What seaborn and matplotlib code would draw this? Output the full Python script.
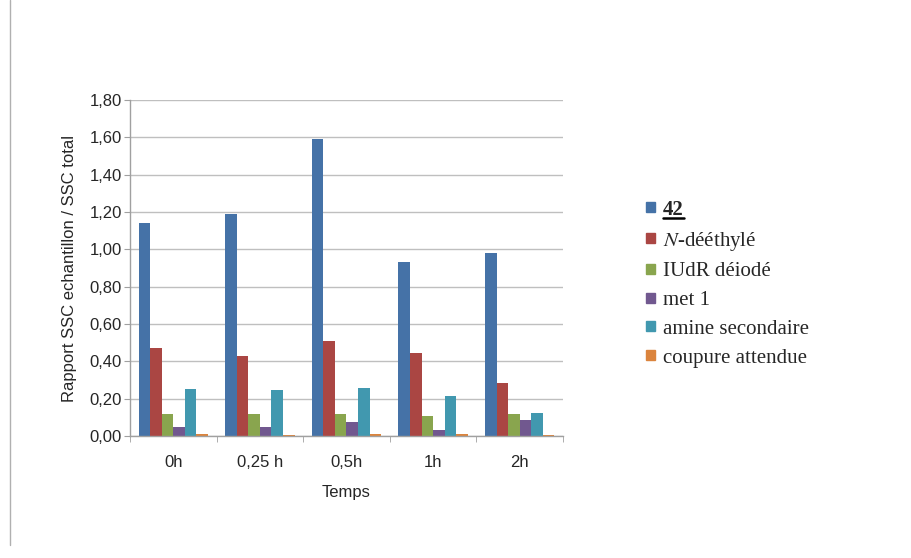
import matplotlib
matplotlib.use("Agg")
import matplotlib.pyplot as plt
import seaborn as sns
import pandas as pd
import numpy as np
from matplotlib.lines import Line2D
from matplotlib.ticker import FixedLocator

categories = ["0h", "0,25 h", "0,5h", "1h", "2h"]
series_names = ["42", "N-dééthylé", "IUdR déiodé", "met 1", "amine secondaire", "coupure attendue"]
v_42 = [1.14, 1.19, 1.59, 0.93, 0.98]
v_ndeeth = [0.47, 0.43, 0.51, 0.445, 0.285]
v_iudr = [0.12, 0.12, 0.12, 0.107, 0.118]
v_met1 = [0.048, 0.048, 0.075, 0.032, 0.086]
v_amine = [0.252, 0.246, 0.257, 0.214, 0.123]
v_coup = [0.01, 0.005, 0.01, 0.01, 0.005]
legend_labels = ["42", r"$\it{N}$-dééthylé", "IUdR déiodé", "met 1",
                 "amine secondaire", "coupure attendue"]
y_ticks = [0.0, 0.2, 0.4, 0.6, 0.8, 1.0, 1.2, 1.4, 1.6, 1.8]
colors = ["#4572A7", "#AA4643", "#89A54E", "#71588F", "#4198AF", "#DB843D"]

rows = []
for name, vals in zip(series_names, [v_42, v_ndeeth, v_iudr, v_met1, v_amine, v_coup]):
    for c, v in zip(categories, vals):
        rows.append({"Temps": c, "serie": name, "val": v})
df = pd.DataFrame(rows)

sns.set_style("white")
plt.rcParams["font.family"] = ["Liberation Sans", "DejaVu Sans"]
plt.rcParams["mathtext.fontset"] = "stix"

fig = plt.figure(figsize=(9.12, 5.58), dpi=100)
ax = fig.add_axes([130/912, 1-436/558, (563-130)/912, (436-100)/558])

sns.barplot(data=df, x="Temps", y="val", hue="serie", hue_order=series_names,
            order=categories, palette=colors, width=0.8, gap=0, ax=ax,
            saturation=1, legend=False, edgecolor="none", linewidth=0)

ax.set_ylim(0, 1.8)
ax.set_xlim(-0.5, len(categories) - 0.5)
ax.set_yticks(y_ticks)
ax.set_yticklabels([f"{t:.2f}".replace(".", ",") for t in y_ticks])
ax.yaxis.grid(True, color="#BFBFBF", linewidth=1)
ax.set_axisbelow(True)
for s in ["top", "right"]:
    ax.spines[s].set_visible(False)
for s in ["left", "bottom"]:
    ax.spines[s].set_color("#A0A0A0")
    ax.spines[s].set_linewidth(1)
ax.tick_params(axis="y", length=4.5, color="#A0A0A0", labelsize=12, pad=1.5, left=True)
ax.tick_params(axis="x", which="major", length=0, labelsize=12, pad=13.5)
ax.xaxis.set_minor_locator(FixedLocator(np.arange(-0.5, len(categories), 1.0)))
ax.tick_params(axis="x", which="minor", length=4.5, color="#A0A0A0", bottom=True)
ax.set_xlabel("Temps", fontsize=12, labelpad=11)
ax.set_ylabel("Rapport SSC echantillon / SSC total", fontsize=12, labelpad=9)

handles = [plt.Rectangle((0, 0), 1, 1, color=c) for c in colors]
leg = fig.legend(handles, legend_labels, loc="upper left", bbox_to_anchor=(627/912, 1-181/558),
                 frameon=False, prop={"family": "Liberation Serif", "size": 15},
                 handlelength=0.43, handleheight=0.36, handletextpad=0.4, labelspacing=0.47)
t42 = leg.get_texts()[0]
t42.set_fontweight("bold")

fig.add_artist(Line2D([10/912, 10/912], [1-545/558, 1.0], color="#B0B0B0", linewidth=1))

fig.canvas.draw()
bb = t42.get_window_extent(renderer=fig.canvas.get_renderer())
inv = fig.transFigure.inverted()
(x0, y0), (x1, y1) = inv.transform([[bb.x0, bb.y0], [bb.x1, bb.y0]])
fig.add_artist(Line2D([x0, x1], [y0 + 2/558, y0 + 2/558], color="black", linewidth=1.8))

fig.savefig("out.png", dpi=100)
